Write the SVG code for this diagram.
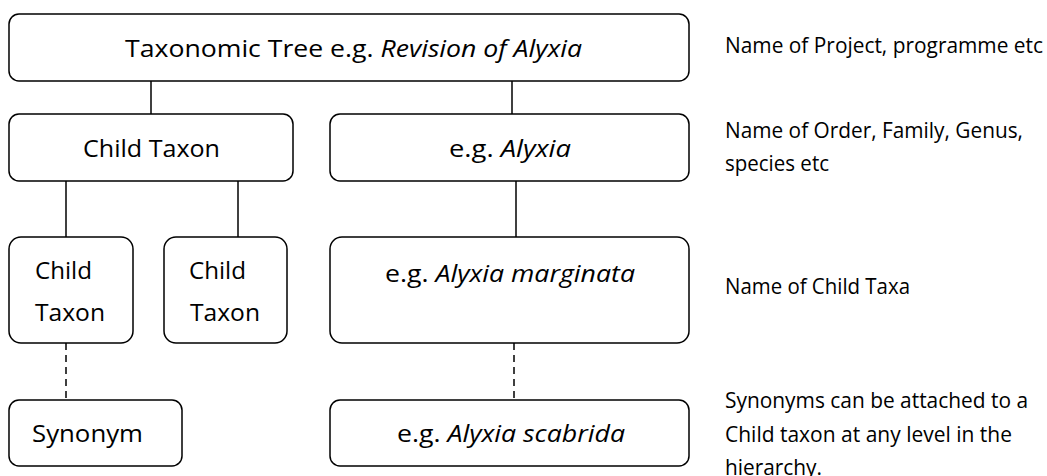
<svg xmlns="http://www.w3.org/2000/svg" width="1047" height="476" viewBox="0 0 1047 476">
<style>
.box{fill:#fff;stroke:#000;stroke-width:1.5}
.c{stroke:#000;stroke-width:1.5;fill:none}
.d{stroke-dasharray:7 5}
.t{font-family:"Open Sans","Noto Sans",sans-serif;font-size:24px;fill:#000}
.r{font-family:"Open Sans","Noto Sans",sans-serif;font-size:21px;fill:#000}
.i{font-style:italic}
</style>
<rect width="1047" height="476" fill="#fff"/>
<g id="connectors">
<line class="c" x1="151" y1="81" x2="151" y2="114"/>
<line class="c" x1="512" y1="81" x2="512" y2="114"/>
<line class="c" x1="66" y1="181" x2="66" y2="237"/>
<line class="c" x1="238" y1="181" x2="238" y2="237"/>
<line class="c" x1="516" y1="181" x2="516" y2="237"/>
<line class="c d" x1="66" y1="343" x2="66" y2="400"/>
<line class="c d" x1="514" y1="343" x2="514" y2="400"/>
</g>
<g id="tree">
<rect class="box" x="9" y="14" width="680" height="67" rx="10"/>
<text class="t" x="125" y="57" textLength="457" lengthAdjust="spacingAndGlyphs">Taxonomic Tree e.g. <tspan class="i">Revision of Alyxia</tspan></text>
</g>
<g id="child-taxon">
<rect class="box" x="9" y="114" width="284" height="67" rx="10"/>
<text class="t" x="83" y="157" textLength="137" lengthAdjust="spacingAndGlyphs">Child Taxon</text>
</g>
<g id="alyxia">
<rect class="box" x="330" y="114" width="359" height="67" rx="10"/>
<text class="t" x="449" y="157" textLength="122" lengthAdjust="spacingAndGlyphs">e.g. <tspan class="i">Alyxia</tspan></text>
</g>
<g id="child-taxon-1">
<rect class="box" x="9" y="237" width="124" height="106" rx="12"/>
<text class="t" x="35" y="279" textLength="57" lengthAdjust="spacingAndGlyphs">Child</text>
<text class="t" x="35" y="321" textLength="70" lengthAdjust="spacingAndGlyphs">Taxon</text>
</g>
<g id="child-taxon-2">
<rect class="box" x="164" y="237" width="123" height="106" rx="12"/>
<text class="t" x="189" y="279" textLength="57" lengthAdjust="spacingAndGlyphs">Child</text>
<text class="t" x="190" y="321" textLength="70" lengthAdjust="spacingAndGlyphs">Taxon</text>
</g>
<g id="alyxia-marginata">
<rect class="box" x="330" y="237" width="359" height="106" rx="12"/>
<text class="t" x="385" y="282" textLength="250" lengthAdjust="spacingAndGlyphs">e.g. <tspan class="i">Alyxia marginata</tspan></text>
</g>
<g id="synonym">
<rect class="box" x="9" y="400" width="173" height="66" rx="10"/>
<text class="t" x="32" y="442" textLength="111" lengthAdjust="spacingAndGlyphs">Synonym</text>
</g>
<g id="alyxia-scabrida">
<rect class="box" x="330" y="400" width="359" height="66" rx="10"/>
<text class="t" x="397" y="442" textLength="228" lengthAdjust="spacingAndGlyphs">e.g. <tspan class="i">Alyxia scabrida</tspan></text>
</g>
<g id="notes">
<text class="r" x="725" y="53" textLength="318" lengthAdjust="spacingAndGlyphs">Name of Project, programme etc</text>
<text class="r" x="725" y="138" textLength="298" lengthAdjust="spacingAndGlyphs">Name of Order, Family, Genus,</text>
<text class="r" x="725" y="171" textLength="104" lengthAdjust="spacingAndGlyphs">species etc</text>
<text class="r" x="725" y="294" textLength="185" lengthAdjust="spacingAndGlyphs">Name of Child Taxa</text>
<text class="r" x="725" y="408" textLength="303" lengthAdjust="spacingAndGlyphs">Synonyms can be attached to a</text>
<text class="r" x="725" y="442" textLength="287" lengthAdjust="spacingAndGlyphs">Child taxon at any level in the</text>
<text class="r" x="725" y="475" textLength="97" lengthAdjust="spacingAndGlyphs">hierarchy.</text>
</g>
</svg>
